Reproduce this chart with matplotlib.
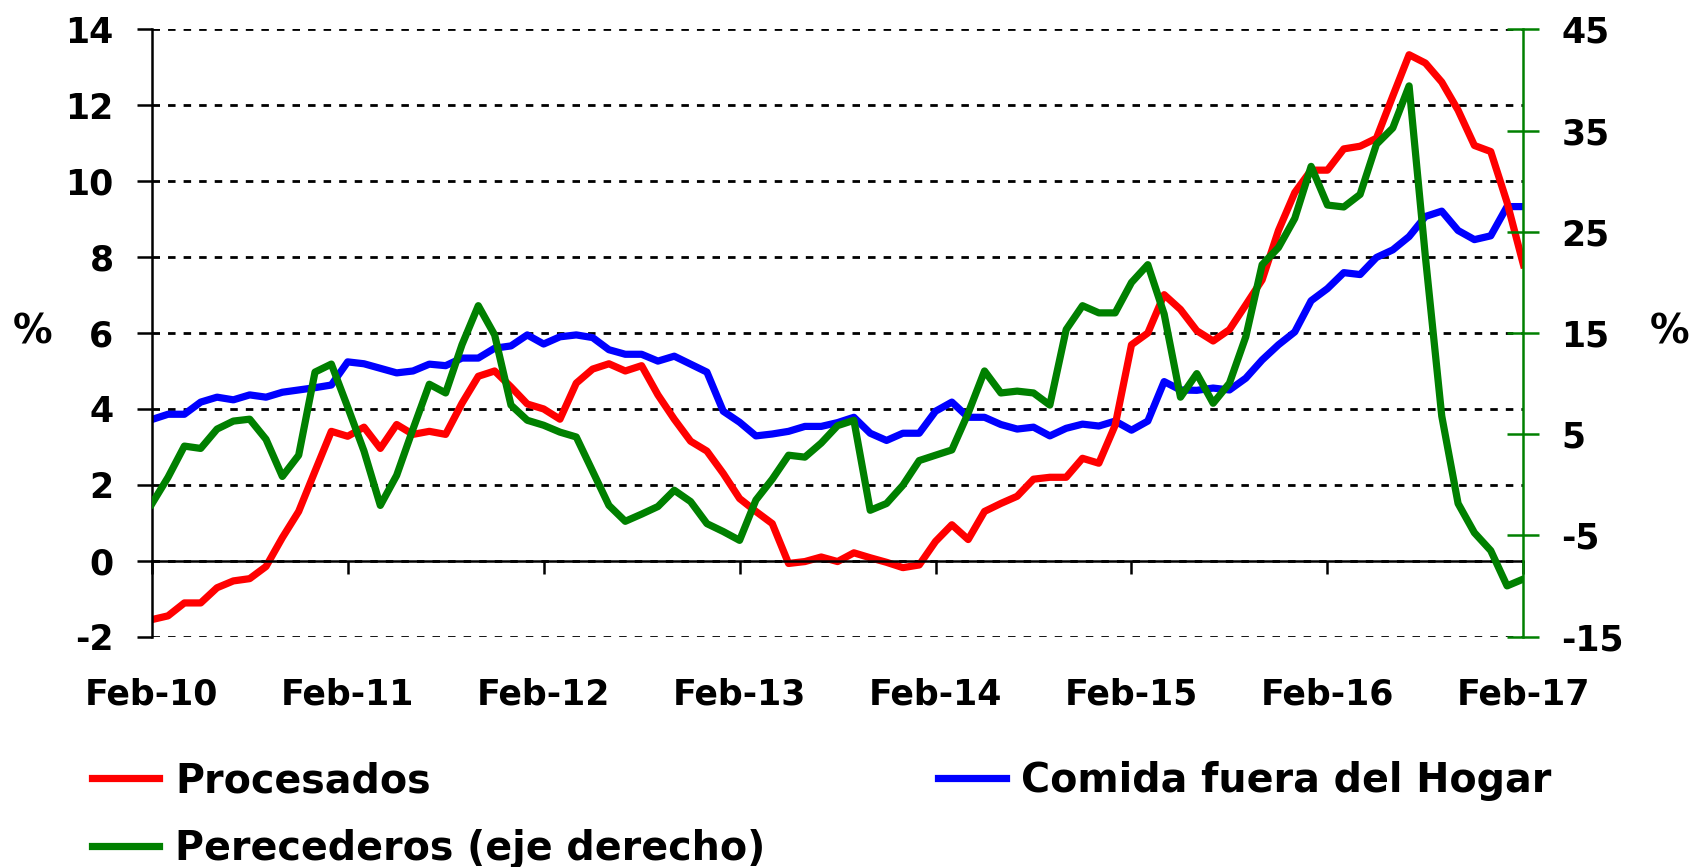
import numpy as np
import matplotlib
matplotlib.use("Agg")
import matplotlib.pyplot as plt

### DATA ###

TICK_LABELS = ["Feb-10", "Feb-11", "Feb-12", "Feb-13", "Feb-14", "Feb-15", "Feb-16", "Feb-17"]

# monthly, Feb-10 .. Feb-17 (85 values), left axis
procesados = [
    -1.55, -1.45, -1.11, -1.11, -0.71, -0.53, -0.47, -0.15, 0.61, 1.30, 2.36, 3.41,
    3.28, 3.52, 2.96, 3.59, 3.33, 3.41, 3.33, 4.15, 4.86, 5.00, 4.58, 4.13,
    4.00, 3.73, 4.68, 5.05, 5.19, 5.00, 5.14, 4.37, 3.73, 3.15, 2.89, 2.30,
    1.64, 1.30, 0.98, -0.07, -0.02, 0.10, -0.02, 0.21, 0.08, -0.04, -0.18, -0.11,
    0.51, 0.95, 0.56, 1.30, 1.51, 1.70, 2.15, 2.20, 2.20, 2.70, 2.57, 3.57,
    5.69, 6.00, 7.01, 6.62, 6.06, 5.79, 6.09, 6.74, 7.40, 8.70, 9.70, 10.29,
    10.29, 10.85, 10.92, 11.13, 12.24, 13.33, 13.11, 12.61, 11.87, 10.94, 10.78, 9.44,
    7.80,
]

comida_fuera = [
    3.72, 3.86, 3.86, 4.18, 4.31, 4.24, 4.37, 4.31, 4.44, 4.50, 4.56, 4.63,
    5.24, 5.19, 5.07, 4.95, 5.00, 5.18, 5.14, 5.34, 5.34, 5.60, 5.66, 5.95,
    5.71, 5.90, 5.95, 5.88, 5.56, 5.44, 5.44, 5.26, 5.39, 5.18, 4.97, 3.94,
    3.65, 3.29, 3.34, 3.41, 3.54, 3.54, 3.64, 3.78, 3.36, 3.17, 3.36, 3.36,
    3.94, 4.18, 3.78, 3.78, 3.59, 3.47, 3.52, 3.29, 3.49, 3.60, 3.55, 3.68,
    3.44, 3.68, 4.72, 4.50, 4.49, 4.55, 4.50, 4.81, 5.29, 5.69, 6.03, 6.85,
    7.17, 7.59, 7.54, 7.99, 8.19, 8.54, 9.07, 9.21, 8.70, 8.46, 8.56, 9.33,
    9.33,
]

# right axis
perecederos = [
    -1.9, 0.75, 3.83, 3.6, 5.51, 6.3, 6.49, 4.5, 0.83, 2.93, 11.14, 11.93,
    7.69, 3.34, -2.03, 0.94, 5.51, 9.94, 9.08, 13.84, 17.7, 14.81, 7.88, 6.38,
    5.89, 5.21, 4.73, 1.35, -2.03, -3.6, -2.89, -2.14, -0.53, -1.65, -3.83, -4.61,
    -5.48, -1.5, 0.56, 2.93, 2.74, 4.13, 5.85, 6.38, -2.51, -1.84, -0.04, 2.4,
    2.93, 3.45, 7.09, 11.25, 9.08, 9.26, 9.08, 7.88, 15.34, 17.7, 16.99, 16.99,
    19.99, 21.75, 16.88, 8.66, 10.99, 8.06, 10.05, 14.63, 21.75, 23.44, 26.33, 31.46,
    27.64, 27.45, 28.69, 33.64, 35.25, 39.41, 22.5, 6.8, -1.84, -4.73, -6.49, -9.98,
    -9.3,
]

### STYLE ###
RED = "#ff0000"
BLUE = "#0000ff"
GREEN = "#008000"
LW = 5.2
TICK_FS = 25
LEG_FS = 28.5

plt.rcParams["font.family"] = ["DejaVu Sans"]
plt.rcParams["font.weight"] = "bold"
plt.rcParams["axes.unicode_minus"] = False

### PLOT ###
x = np.arange(len(procesados))

fig = plt.figure(figsize=(16.97, 8.67), dpi=100)
ax = fig.add_axes([0.0894, 0.2656, 0.8083, 0.7006])
ax2 = ax.twinx()

l_com, = ax.plot(x, comida_fuera, color=BLUE, lw=LW, label="Comida fuera del Hogar")
l_pro, = ax.plot(x, procesados, color=RED, lw=LW, label="Procesados")
l_per, = ax2.plot(x, perecederos, color=GREEN, lw=LW, label="Perecederos (eje derecho)")

ax.set_xlim(0, 84)
ax.set_ylim(-2, 14)
ax.set_yticks(np.arange(-2, 15, 2))
ax2.set_ylim(-15, 45)
ax2.set_yticks(np.arange(-15, 46, 10))

# grid
ax.yaxis.grid(True, color="black", lw=2.0, linestyle=(0, (2.7, 2.9)))
ax.set_axisbelow(True)

# spines
for s in ["top", "right"]:
    ax.spines[s].set_visible(False)
for s in ["top", "left", "bottom"]:
    ax2.spines[s].set_visible(False)
ax.spines["left"].set_linewidth(1.8)
ax.spines["bottom"].set_position(("data", 0))
ax.spines["bottom"].set_linewidth(1.8)
ax2.spines["right"].set_color(GREEN)
ax2.spines["right"].set_linewidth(1.8)

ax.set_xticks(np.arange(0, 85, 12))
ax.set_xticklabels(TICK_LABELS)
ax.tick_params(axis="x", direction="out", length=9, width=1.8, pad=75, labelsize=TICK_FS)
ax.tick_params(axis="y", direction="out", length=10.5, width=1.8, pad=17, labelsize=TICK_FS)
ax2.tick_params(axis="y", direction="inout", length=23, width=1.8, color=GREEN,
                labelcolor="black", pad=16, labelsize=TICK_FS)

for lab in ax.get_xticklabels() + ax.get_yticklabels() + ax2.get_yticklabels():
    lab.set_fontweight("bold")

fig.text(33 / 1697, 1 - 333 / 867, "%", fontsize=LEG_FS, fontweight="bold", ha="center", va="center")
fig.text(1670 / 1697, 1 - 333 / 867, "%", fontsize=LEG_FS, fontweight="bold", ha="center", va="center")

leg = fig.legend([l_pro, l_per, l_com],
                 ["Procesados", "Perecederos (eje derecho)", "Comida fuera del Hogar"],
                 ncol=2, loc="upper left", bbox_to_anchor=(92 / 1697, 0.122),
                 frameon=False, borderpad=0, borderaxespad=0,
                 handlelength=1.7, handletextpad=0.4, columnspacing=4.37,
                 labelspacing=0.7, prop={"size": LEG_FS, "weight": "bold"})

fig.savefig("out.png", dpi=100, facecolor="white")
